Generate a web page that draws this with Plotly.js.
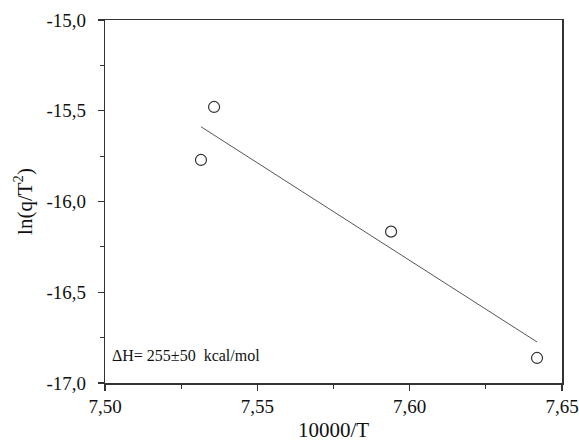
<!DOCTYPE html>
<html><head><meta charset="utf-8">
<script src="https://cdn.plot.ly/plotly-3.0.1.min.js"></script>
<style>body{margin:0;background:#fff}#c{width:579px;height:446px}</style>
</head><body><div id="c"></div>
<script>
const invT = [7.5315, 7.5358, 7.5939, 7.6418];
const lnq = [-15.771, -15.479, -16.166, -16.862];
const fitX = [7.5315, 7.6418];
const fitY = [-15.588, -16.774];
const xTickVals = [7.50, 7.55, 7.60, 7.65];
const xTickText = ['7,50','7,55','7,60','7,65'];
const yTickVals = [-17, -16.5, -16, -15.5, -15];
const yTickText = ['-17,0','-16,5','-16,0','-15,5','-15,0'];
const annText = 'ΔH= 255±50  kcal/mol';

const SERIF = 'Liberation Serif';
const PAD = '\u2009\u2009';
const data = [
  {x: fitX, y: fitY, mode: 'lines', line: {color: '#555', width: 1}, hoverinfo: 'skip'},
  {x: invT, y: lnq, mode: 'markers', marker: {symbol: 'circle-open', size: 11, color: '#333', line: {width: 1.2, color: '#333'}}}
];
function axisCommon() {
  return {
    showgrid: false, zeroline: false, showline: true, linecolor: '#333', linewidth: 1.5,
    mirror: true, ticks: 'outside', ticklen: 6, tickwidth: 1.2, tickcolor: '#333',
    tickfont: {family: SERIF, size: 19, color: '#111'}
  };
}
const layout = {
  width: 579, height: 446, showlegend: false, separators: ', ',
  paper_bgcolor: '#fff', plot_bgcolor: '#fff',
  margin: {l: 105, r: 17, t: 20, b: 63},
  font: {family: SERIF, color: '#111'},
  xaxis: Object.assign(axisCommon(), {
    range: [7.50, 7.65], tickvals: xTickVals, ticktext: xTickText,
    minor: {tickvals: [7.525, 7.575, 7.625], ticklen: 4, tickwidth: 1.2, tickcolor: '#333', ticks: 'outside'},
    title: {text: '10000/T', font: {family: SERIF, size: 21, color: '#111'}, standoff: 6}
  }),
  yaxis: Object.assign(axisCommon(), {
    range: [-17, -15], tickvals: yTickVals, ticktext: yTickText.map(t => t + PAD),
    minor: {tickvals: [-16.75, -16.25, -15.75, -15.25], ticklen: 4, tickwidth: 1.2, tickcolor: '#333', ticks: 'outside'},
    title: {text: 'ln(q/T<sup>2</sup>)', font: {family: SERIF, size: 21, color: '#111'}, standoff: 8}
  }),
  annotations: [{
    xref: 'paper', yref: 'paper', x: 0.012, y: 0.075, xanchor: 'left', yanchor: 'middle',
    text: annText, showarrow: false, font: {family: SERIF, size: 16, color: '#111'}
  }]
};
Plotly.newPlot('c', data, layout, {displayModeBar: false, staticPlot: true});
</script></body></html>
